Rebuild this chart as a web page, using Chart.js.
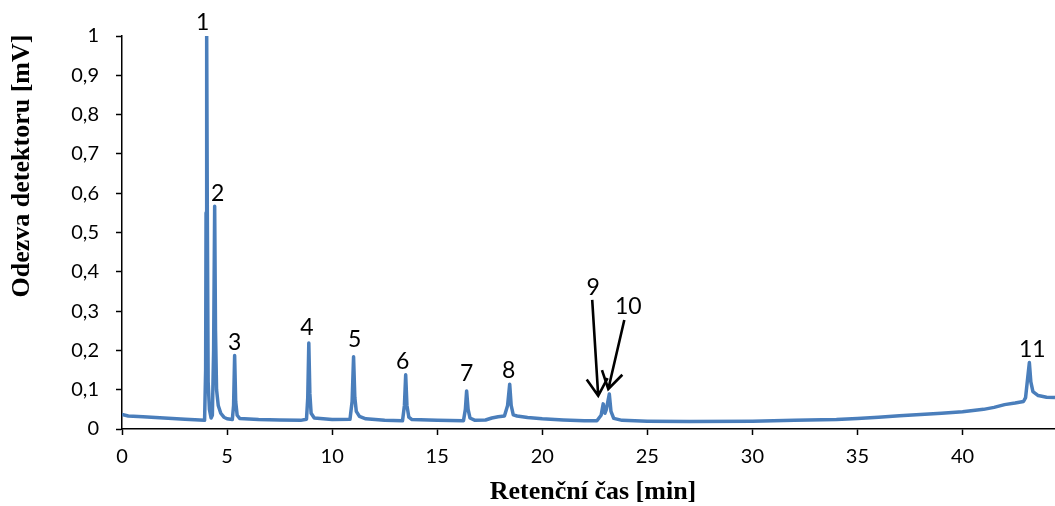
<!DOCTYPE html>
<html>
<head>
<meta charset="utf-8">
<script src="https://cdn.jsdelivr.net/npm/chart.js@4.4.1/dist/chart.umd.min.js"></script>
<style>
  html, body { margin: 0; padding: 0; background: #fff; }
  canvas { display: block; }
</style>
</head>
<body>
<canvas id="chrom" width="1055" height="506"></canvas>
<script>
// Chromatogram: detector response versus retention time
const retentionTimes = [
  0, 0.3, 1, 2, 3, 3.7, 3.93,
  3.98, 4.0, 4.03, 4.06, 4.1, 4.16, 4.24,
  4.3, 4.36, 4.41, 4.45, 4.5, 4.58, 4.7, 4.85, 5.0,
  5.25, 5.31, 5.36, 5.41, 5.48, 5.6,
  6.5, 7.5, 8.5, 8.78, 8.84, 8.89, 8.94, 9.0, 9.15,
  10, 10.85, 10.95, 11.02, 11.08, 11.15, 11.3, 11.6,
  12.5, 13.35, 13.44, 13.5, 13.56, 13.65, 13.8,
  15, 16.25, 16.34, 16.4, 16.47, 16.56, 16.8,
  17.3, 17.6, 17.9, 18.2, 18.35, 18.45, 18.52, 18.62, 18.8, 19.3,
  20, 21, 22, 22.6, 22.8, 22.9, 22.98, 23.05, 23.19, 23.27, 23.4, 23.8,
  25, 27, 30, 32, 34, 35, 36, 37, 38, 39, 40, 41, 41.5, 42, 42.5, 42.9,
  43.0, 43.1, 43.18, 43.25, 43.35, 43.6, 44, 44.4
];
const detectorResponse = [
  0.037, 0.033, 0.031, 0.028, 0.025, 0.023, 0.022,
  0.15, 0.55, 1.0, 0.55, 0.12, 0.05, 0.028,
  0.035, 0.2, 0.567, 0.25, 0.1, 0.06, 0.04, 0.03, 0.026,
  0.024, 0.06, 0.187, 0.07, 0.035, 0.027,
  0.024, 0.023, 0.022, 0.025, 0.08, 0.219, 0.09, 0.04, 0.028,
  0.024, 0.025, 0.07, 0.184, 0.08, 0.045, 0.032, 0.026,
  0.022, 0.021, 0.06, 0.138, 0.06, 0.03, 0.024,
  0.022, 0.021, 0.05, 0.097, 0.05, 0.028, 0.022,
  0.023, 0.028, 0.031, 0.033, 0.06, 0.114, 0.06, 0.036, 0.033, 0.029,
  0.026, 0.023, 0.021, 0.021, 0.035, 0.064, 0.04, 0.05, 0.089, 0.045, 0.027, 0.022,
  0.02, 0.019, 0.02, 0.022, 0.024, 0.027, 0.03, 0.034, 0.037, 0.04, 0.044, 0.05, 0.055, 0.062, 0.066, 0.07,
  0.08, 0.13, 0.169, 0.12, 0.095, 0.085, 0.081, 0.08
];

// Numbered peaks and their retention times
const peakNumbers = ['1', '2', '3', '4', '5', '6', '7', '8', '9', '10', '11'];
const peakTimes = [4.03, 4.41, 5.36, 8.89, 11.02, 13.5, 16.4, 18.45, 22.9, 23.19, 43.18];

const xTicksStep = 5;
const yTicksStep = 0.1;

const points = retentionTimes.map((t, i) => ({ x: t, y: detectorResponse[i] }));

const LINE_COLOR = '#4A7EBB';
const SANS = 'Lato, "Open Sans", sans-serif';
const TICK_FONT = { family: SANS, size: 20 };
const TITLE_FONT = 'bold 26px "Liberation Serif", "Times New Roman", serif';

// Label placement relative to each peak apex (pixels); arrowed labels carry an arrow
const labelLayout = {
  '1':  { dx: -4, dy: -13 },
  '2':  { dx: 3, dy: -13 },
  '3':  { dx: 0, dy: -13 },
  '4':  { dx: -2, dy: -15 },
  '5':  { dx: 1, dy: -17 },
  '6':  { dx: -3, dy: -13 },
  '7':  { dx: 0, dy: -17 },
  '8':  { dx: -1, dy: -14 },
  '9':  { dx: -10, dy: -116, arrow: { from: [-11, -104], to: [-5, -8] } },
  '10': { dx: 19, dy: -87, arrow: { from: [15, -74], to: [-1, -5] } },
  '11': { dx: 3, dy: -13 }
};

function valueAt(t) {
  let best = 0, bestD = Infinity;
  retentionTimes.forEach((rt, i) => {
    const d = Math.abs(rt - t);
    if (d < bestD) { bestD = d; best = i; }
  });
  return detectorResponse[best];
}

function drawArrow(ctx, x1, y1, x2, y2) {
  const ang = Math.atan2(y2 - y1, x2 - x1);
  const head = 20, spread = 0.55;
  ctx.beginPath();
  ctx.moveTo(x1, y1);
  ctx.lineTo(x2, y2);
  ctx.moveTo(x2 - head * Math.cos(ang - spread), y2 - head * Math.sin(ang - spread));
  ctx.lineTo(x2, y2);
  ctx.lineTo(x2 - head * Math.cos(ang + spread), y2 - head * Math.sin(ang + spread));
  ctx.stroke();
}

const annotations = {
  id: 'peakAnnotations',
  afterDatasetsDraw(chart) {
    const { ctx, scales: { x, y } } = chart;
    ctx.save();
    ctx.fillStyle = '#000';
    ctx.strokeStyle = '#000';
    ctx.lineWidth = 2.6;
    ctx.lineCap = 'butt';
    ctx.lineJoin = 'miter';
    ctx.font = '23px ' + SANS;
    ctx.textAlign = 'center';
    ctx.textBaseline = 'middle';
    peakNumbers.forEach((num, i) => {
      const px = x.getPixelForValue(peakTimes[i]);
      const py = y.getPixelForValue(valueAt(peakTimes[i]));
      const lay = labelLayout[num];
      ctx.fillText(num, px + lay.dx, py + lay.dy);
      if (lay.arrow) {
        drawArrow(ctx, px + lay.arrow.from[0], py + lay.arrow.from[1],
                       px + lay.arrow.to[0], py + lay.arrow.to[1]);
      }
    });
    ctx.restore();
  },
  afterDraw(chart) {
    const { ctx } = chart;
    ctx.save();
    ctx.fillStyle = '#000';
    ctx.font = TITLE_FONT;
    ctx.textAlign = 'center';
    ctx.textBaseline = 'middle';
    ctx.fillText('Retenční čas [min]', 593, 492);
    ctx.translate(22, 166);
    ctx.rotate(-Math.PI / 2);
    ctx.fillText('Odezva detektoru [mV]', 0, 0);
    ctx.restore();
  }
};

new Chart(document.getElementById('chrom'), {
  type: 'line',
  data: {
    datasets: [{
      data: points,
      borderColor: LINE_COLOR,
      borderWidth: 3.5,
      pointRadius: 0,
      tension: 0,
      fill: false,
      borderJoinStyle: 'round'
    }]
  },
  options: {
    responsive: false,
    animation: false,
    events: [],
    layout: { padding: { top: 36, right: 0, bottom: 0, left: 0 } },
    plugins: { legend: { display: false }, tooltip: { enabled: false } },
    scales: {
      x: {
        type: 'linear',
        min: 0,
        max: 44.4,
        afterFit(scale) { scale.height = 77; },
        afterBuildTicks(scale) {
          scale.ticks = scale.ticks.filter(t => Math.abs(t.value / xTicksStep - Math.round(t.value / xTicksStep)) < 1e-6);
        },
        ticks: {
          stepSize: xTicksStep,
          includeBounds: false,
          color: '#000',
          font: TICK_FONT,
          padding: 10,
          maxRotation: 0
        },
        grid: { drawOnChartArea: false, drawTicks: true, tickLength: 6, color: '#000', tickWidth: 1.5 },
        border: { display: true, color: '#000', width: 1.5 }
      },
      y: {
        min: 0,
        max: 1,
        afterFit(scale) { scale.width = 122; },
        ticks: {
          stepSize: yTicksStep,
          color: '#000',
          font: TICK_FONT,
          padding: 17,
          callback: v => (Math.round(v * 10) / 10).toString().replace('.', ',')
        },
        grid: { drawOnChartArea: false, drawTicks: true, tickLength: 6, color: '#000', tickWidth: 1.5 },
        border: { display: true, color: '#000', width: 1.5 }
      }
    }
  },
  plugins: [annotations]
});
</script>
</body>
</html>
